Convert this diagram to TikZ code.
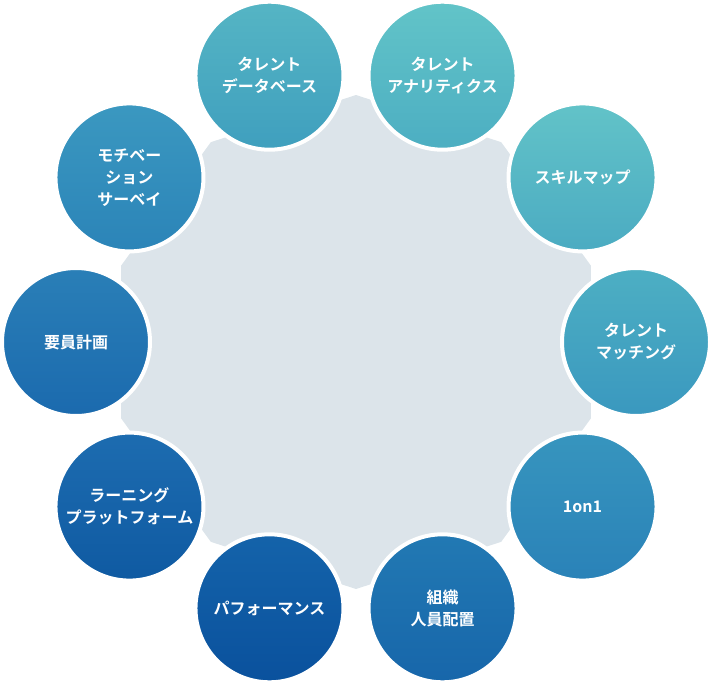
\documentclass[tikz,border=0pt]{standalone}
\usetikzlibrary{calc}
\usepackage{fontspec}
\setmainfont{Noto Sans CJK JP}
\newfontfamily\jpb{Noto Sans CJK JP Bold}
\begin{document}
\begin{tikzpicture}[x=1pt,y=-1pt,
  item/.style={circle,draw=white,line width=4pt,minimum size=148pt,inner sep=0pt,
    align=center,text=white,font=\jpb\fontsize{16}{22}\selectfont},
]
\definecolor{bgpoly}{HTML}{DCE4EA}
\useasboundingbox (0,0) rectangle (712,685);
\fill[bgpoly] (356,342) +(90:247) \foreach \a in {126,162,...,414}{ -- +(\a:247)} -- cycle;
\foreach \n/\ang/\ca/\cb/\t in {
 a/108/55B5C4/3F9FBE/{タレント\\データベース},
 b/72/62C4C8/4CAEC2/{タレント\\アナリティクス},
 c/36/62C3C8/4BABC2/{スキルマップ},
 d/0/4DAFC3/3A98BF/{タレント\\マッチング},
 e/-36/3795BE/2A82B8/{1on1},
 f/-72/2279B3/1766AA/{組織\\人員配置},
 g/-108/1463AA/0A519D/{パフォーマンス},
 h/-144/1D6CB0/0F5AA2/{ラーニング\\プラットフォーム},
 i/180/2A7FB7/1B6AAE/{要員計画},
 j/144/3B98C0/2B84B8/{モチベー\\ション\\サーベイ}}{
  \definecolor{c1}{HTML}{\ca}\definecolor{c2}{HTML}{\cb}
  \node[item,top color=c1,bottom color=c2] (\n) at ($(356,342)+(-\ang:280)$) {\t};
}
\end{tikzpicture}
\end{document}
